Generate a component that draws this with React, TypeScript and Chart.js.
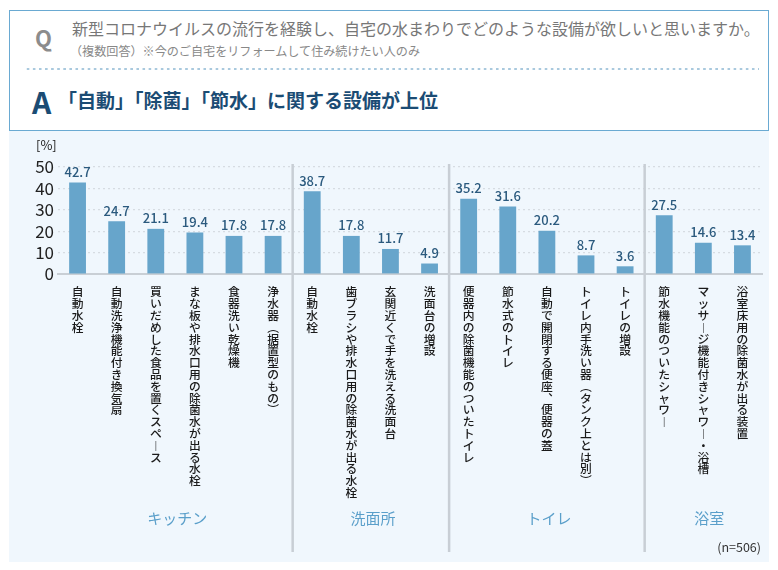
import React, { useEffect, useRef } from "react";
import { Chart, registerables } from "chart.js";

Chart.register(...registerables);

const categories: string[] = [
  "自動水栓",
  "自動洗浄機能付き換気扇",
  "買いだめした食品を置くスペース",
  "まな板や排水口用の除菌水が出る水栓",
  "食器洗い乾燥機",
  "浄水器（据置型のもの）",
  "自動水栓",
  "歯ブラシや排水口用の除菌水が出る水栓",
  "玄関近くで手を洗える洗面台",
  "洗面台の増設",
  "便器内の除菌機能のついたトイレ",
  "節水式のトイレ",
  "自動で開閉する便座、便器の蓋",
  "トイレ内手洗い器（タンク上とは別）",
  "トイレの増設",
  "節水機能のついたシャワー",
  "マッサージ機能付きシャワー・浴槽",
  "浴室床用の除菌水が出る装置",
];
const values: number[] = [42.7, 24.7, 21.1, 19.4, 17.8, 17.8, 38.7, 17.8, 11.7, 4.9, 35.2, 31.6, 20.2, 8.7, 3.6, 27.5, 14.6, 13.4];
const groupNames: string[] = ["キッチン", "洗面所", "トイレ", "浴室"];
const groupSizes: number[] = [6, 4, 5, 3];
const yTicks: number[] = [0, 10, 20, 30, 40, 50];

const FONT = "'Noto Sans CJK JP', 'Noto Sans', sans-serif";

const verticalMap: Record<string, string> = {
  "ー": "︱",
  "（": "︵",
  "）": "︶",
  "、": "︑",
};
const toVertical = (s: string): string[] => Array.from(s).map((c) => verticalMap[c] ?? c);

const overlayPlugin = {
  id: "overlay",
  afterDatasetsDraw(chart: any) {
    const { ctx, chartArea, scales } = chart;
    const x = scales.x;
    const y = scales.y;
    ctx.save();
    const meta = chart.getDatasetMeta(0);
    ctx.font = `500 13px ${FONT}`;
    ctx.fillStyle = "#2b5a7e";
    ctx.textAlign = "center";
    ctx.textBaseline = "bottom";
    meta.data.forEach((bar: any, i: number) => {
      ctx.fillText(values[i].toFixed(1), bar.x, bar.y - 4);
    });
    let start = 0;
    groupSizes.forEach((n, g) => {
      const first = x.getPixelForValue(start);
      const last = x.getPixelForValue(start + n - 1);
      const cx = (first + last) / 2;
      ctx.font = `15px ${FONT}`;
      ctx.fillStyle = "#5a9fca";
      ctx.textAlign = "center";
      ctx.textBaseline = "middle";
      ctx.fillText(groupNames[g], cx + (g === 3 ? 6 : 2), chart.height - 44);
      if (g < groupSizes.length - 1) {
        const sx = (x.getPixelForValue(start + n - 1) + x.getPixelForValue(start + n)) / 2;
        ctx.strokeStyle = "#c8ced5";
        ctx.lineWidth = 2.5;
        ctx.beginPath();
        ctx.moveTo(sx, chartArea.top - 3);
        ctx.lineTo(sx, chart.height - 10);
        ctx.stroke();
      }
      start += n;
    });
    ctx.font = `13px ${FONT}`;
    ctx.fillStyle = "#222";
    ctx.textAlign = "left";
    ctx.textBaseline = "middle";
    ctx.fillText("[%]", 27, y.getPixelForValue(50) - 22);
    ctx.font = `12.5px ${FONT}`;
    ctx.fillStyle = "#333";
    ctx.textAlign = "right";
    ctx.fillText("(n=506)", chart.width - 8, chart.height - 15);
    ctx.restore();
  },
};

export default function App() {
  const ref = useRef<HTMLCanvasElement | null>(null);
  useEffect(() => {
    if (!ref.current) return;
    const chart = new Chart(ref.current, {
      type: "bar",
      data: {
        labels: categories.map(toVertical),
        datasets: [
          {
            data: values,
            backgroundColor: "#67a5cb",
            barPercentage: 0.43,
            categoryPercentage: 1,
          },
        ],
      },
      options: {
        animation: false,
        responsive: false,
        maintainAspectRatio: false,
        layout: { padding: { top: 36, right: 7, left: 0, bottom: 0 } },
        plugins: { legend: { display: false }, tooltip: { enabled: false }, title: { display: false } },
        scales: {
          x: {
            grid: { display: false },
            border: { display: true, color: "#c9cfd5", width: 2 },
            ticks: {
              autoSkip: false,
              maxRotation: 0,
              minRotation: 0,
              padding: 4,
              color: "#1a1a1a",
              font: { family: FONT, size: 11.8, weight: "500", lineHeight: "11.8px" },
            },
            afterFit: (s: any) => {
              s.height = 288;
            },
          },
          y: {
            min: 0,
            max: 50,
            afterBuildTicks: (s: any) => {
              s.ticks = yTicks.map((v) => ({ value: v }));
            },
            grid: {
              color: (c: any) => (c.tick && c.tick.value === 0 ? "rgba(0,0,0,0)" : "#d6dce2"),
              lineWidth: 1.2,
              drawTicks: false,
            },
            border: { display: false, dash: [2, 3] },
            ticks: {
              autoSkip: false,
              stepSize: 10,
              padding: 4,
              color: "#222",
              font: { family: FONT, size: 17 },
            },
            afterFit: (s: any) => {
              s.width = 49;
            },
          },
        },
      },
      plugins: [overlayPlugin],
    } as any);
    return () => chart.destroy();
  }, []);

  const base: React.CSSProperties = { position: "absolute", fontFamily: FONT, whiteSpace: "nowrap", lineHeight: 1 };
  return (
    <div style={{ position: "absolute", left: 0, top: 0, width: 778, height: 570, background: "#fff", overflow: "hidden" }}>
      <div
        style={{
          position: "absolute",
          left: 9,
          top: 10,
          width: 760,
          height: 121,
          boxSizing: "border-box",
          border: "1.5px solid #6aaad2",
          background: "#fff",
        }}
      />
      <div style={{ ...base, left: 35, top: 26, fontSize: 22, fontWeight: 700, color: "#8c8c8c" }}>Q</div>
      <div style={{ ...base, left: 72, top: 20, fontSize: 16, color: "#777" }}>
        新型コロナウイルスの流行を経験し、自宅の水まわりでどのような設備が欲しいと思いますか。
      </div>
      <div style={{ ...base, left: 70, top: 45, fontSize: 12.1, color: "#888" }}>
        （複数回答）※今のご自宅をリフォームして住み続けたい人のみ
      </div>
      <div
        style={{
          position: "absolute",
          left: 25,
          top: 67,
          width: 734,
          height: 4,
          backgroundImage: "radial-gradient(circle, #a9c9de 1px, transparent 1.3px)",
          backgroundSize: "6.1px 4px",
        }}
      />
      <div style={{ ...base, left: 32, top: 86, fontSize: 30, fontWeight: 700, color: "#1b4c74" }}>A</div>
      <div style={{ ...base, left: 58, top: 90, fontSize: 19, fontWeight: 700, color: "#1b4c74" }}>
        「自動」「除菌」「節水」に関する設備が上位
      </div>
      <div style={{ position: "absolute", left: 9, top: 131, width: 760, height: 431, background: "#f0f7fd" }}>
        <canvas ref={ref} width={760} height={431} style={{ display: "block", width: 760, height: 431 }} />
      </div>
    </div>
  );
}
